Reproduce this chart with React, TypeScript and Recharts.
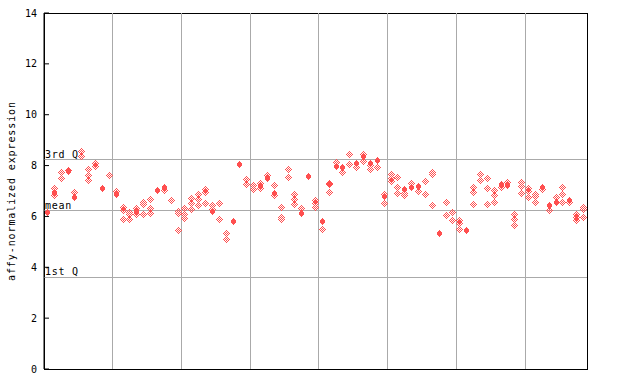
import { ScatterChart, Scatter, XAxis, YAxis, ReferenceLine, ReferenceArea } from 'recharts'

// one value per sample (79 samples), null where no point is drawn
const solidVals: (number | null)[] = [
  6.16, 6.95, null, 7.75, 6.75, null, null, null, 7.08, null,
  6.85, null, null, 6.2, null, null, 7.01, 7.14, null, null,
  null, null, null, null, 6.2, null, null, 5.8, 8.03, null,
  null, 7.18, 7.48, 6.92, null, null, null, 6.13, 7.57, null,
  5.8, null, 7.97, 7.93, null, 8.1, 8.36, 8.1, 8.2, 6.79,
  null, null, 7.05, 7.15, 7.17, null, null, 5.32, null, null,
  null, 5.46, null, null, null, null, 7.27, 7.21, null, null,
  null, null, 7.13, 6.42, 6.55, null, 6.63, null, null,
]

const repA: (number | null)[] = [
  null, 7.08, 7.71, 7.8, 6.95, 8.55, 7.85, 8.1, null, 7.6,
  6.98, 6.35, 6.16, 6.33, 6.55, 6.65, null, 7.01, 6.62, 6.2,
  6.33, 6.72, 6.85, 7.05, 6.42, 6.52, 5.34, null, null, 7.47,
  7.21, 7.31, 7.6, 7.21, 6.36, 7.84, 6.85, 6.33, null, 6.62,
  5.5, 7.31, 8.14, 7.71, 8.45, 7.93, 8.45, 8.0, 7.94, 6.85,
  7.64, 7.55, 6.92, 7.29, 6.98, 7.38, 7.72, null, 6.56, 6.17,
  5.83, null, 7.15, 7.64, 7.51, 7.01, 7.15, 7.33, 6.09, 7.35,
  7.08, 6.88, 7.05, 6.22, 6.76, 7.12, 6.55, 6.07, 6.37,
]

const repB: (number | null)[] = [
  null, 6.83, 7.51, null, null, 8.35, 7.62, 7.95, null, null,
  null, 6.25, 6.07, 6.08, 6.45, 6.33, null, null, null, 6.1,
  6.09, 6.49, 6.68, 6.95, 6.26, 5.86, 5.11, null, null, 7.27,
  7.05, 7.08, null, 6.83, 5.96, 7.55, 6.66, null, null, 6.49,
  null, 7.25, null, null, 8.06, null, 8.16, 7.86, null, 6.5,
  7.51, 7.12, 6.83, null, null, 6.85, 7.64, null, 6.03, 5.83,
  5.74, null, 6.95, 7.4, 7.08, 6.84, null, null, 5.87, 7.18,
  6.98, 6.79, null, null, null, 6.88, null, 5.97, 6.26,
]

const repC: (number | null)[] = [
  null, null, null, null, null, null, 7.42, null, null, null,
  null, 5.86, 5.86, null, 6.07, 6.13, null, null, null, 5.46,
  5.91, 6.26, 6.42, 6.52, null, null, null, null, null, null,
  null, null, null, null, 5.87, null, 6.46, null, null, 6.36,
  null, 6.95, null, null, null, null, null, null, null, null,
  7.38, 6.89, null, null, null, null, 6.43, null, null, null,
  5.5, null, 6.48, null, 6.46, 6.54, null, null, 5.63, 6.92,
  6.76, 6.56, null, null, null, 6.56, null, 5.83, 5.97,
]

const groupEdges = [10, 20, 30, 40, 50, 60, 70]
const yTicks = [0, 2, 4, 6, 8, 10, 12, 14]
const quartiles = [
  { name: '3rd Q', value: 8.23 },
  { name: 'mean', value: 6.22 },
  { name: '1st Q', value: 3.61 },
]

const RED = '#ff4f4f'
const GRID = '#aaaaaa'
const MONO = '"DejaVu Sans Mono", monospace'

const toPoints = (vals: (number | null)[]) =>
  vals.flatMap((v, i) => (v == null ? [] : [{ x: i + 0.5, y: v }]))

const solidPts = toPoints(solidVals)
const hollowPts = [...toPoints(repA), ...toPoints(repB), ...toPoints(repC)]

// little pixel diamonds, like the original gif glyphs
function pixelDiamond(cx: number, cy: number, filled: boolean, key?: string) {
  const px = Math.floor(cx)
  const py = Math.floor(cy)
  const cells = []
  for (let dy = -3; dy <= 3; dy++) {
    for (let dx = -3; dx <= 3; dx++) {
      const d = Math.abs(dx) + Math.abs(dy)
      if (d > 3) continue
      if (filled && Math.abs(dx) > 2) continue
      if (!filled && d % 2 === 0) continue
      cells.push(<rect key={dx + '_' + dy} x={px + dx} y={py + dy} width={1} height={1} fill={RED} />)
    }
  }
  return <g key={key} shapeRendering="crispEdges">{cells}</g>
}

const SolidShape = (p: any) => pixelDiamond(p.cx, p.cy, true)
const HollowShape = (p: any) => pixelDiamond(p.cx, p.cy, false)

export default function App() {
  return (
    <div style={{ position: 'absolute', left: 0, top: 0, width: 640, height: 384, background: '#fff' }}>
      <ScatterChart width={640} height={384} margin={{ top: 13, right: 53, bottom: 15, left: 0 }}>
        <XAxis type="number" dataKey="x" domain={[0, 79]} hide />
        <YAxis
          type="number"
          dataKey="y"
          domain={[0, 14]}
          ticks={yTicks}
          width={44}
          tickSize={-5}
          tickMargin={12}
          axisLine={{ stroke: '#000' }}
          tickLine={{ stroke: '#000' }}
          tick={{ fill: '#000', fontSize: 10, fontFamily: MONO }}
          interval={0}
        />
        <YAxis
          yAxisId="r"
          orientation="right"
          type="number"
          domain={[0, 14]}
          ticks={yTicks}
          width={0}
          tickSize={-5}
          tick={false}
          axisLine={{ stroke: '#000' }}
          tickLine={{ stroke: '#000' }}
          interval={0}
        />
        {groupEdges.map((g) => (
          <ReferenceLine key={g} x={g} stroke={GRID} shapeRendering="crispEdges" />
        ))}
        {quartiles.map((q) => (
          <ReferenceLine
            key={q.name}
            y={q.value}
            stroke={GRID}
            shapeRendering="crispEdges"
            label={(props: any) => (
              <text
                x={props.viewBox.x + 1}
                y={props.viewBox.y - 2}
                fontSize={10}
                fontFamily={MONO}
                letterSpacing={0.7}
                fill="#000"
              >
                {q.name}
              </text>
            )}
          />
        ))}
        <ReferenceArea x1={0} x2={79} y1={0} y2={14} fill="none" stroke="#000" shapeRendering="crispEdges" />
        <Scatter data={hollowPts} shape={HollowShape} isAnimationActive={false} />
        <Scatter data={solidPts} shape={SolidShape} isAnimationActive={false} />
        <text
          x={12}
          y={191}
          transform="rotate(-90 12 191)"
          textAnchor="middle"
          dominantBaseline="middle"
          fontSize={10}
          fontFamily={MONO}
          letterSpacing={0.9}
          fill="#000"
        >
          affy-normalized expression
        </text>
      </ScatterChart>
    </div>
  )
}
